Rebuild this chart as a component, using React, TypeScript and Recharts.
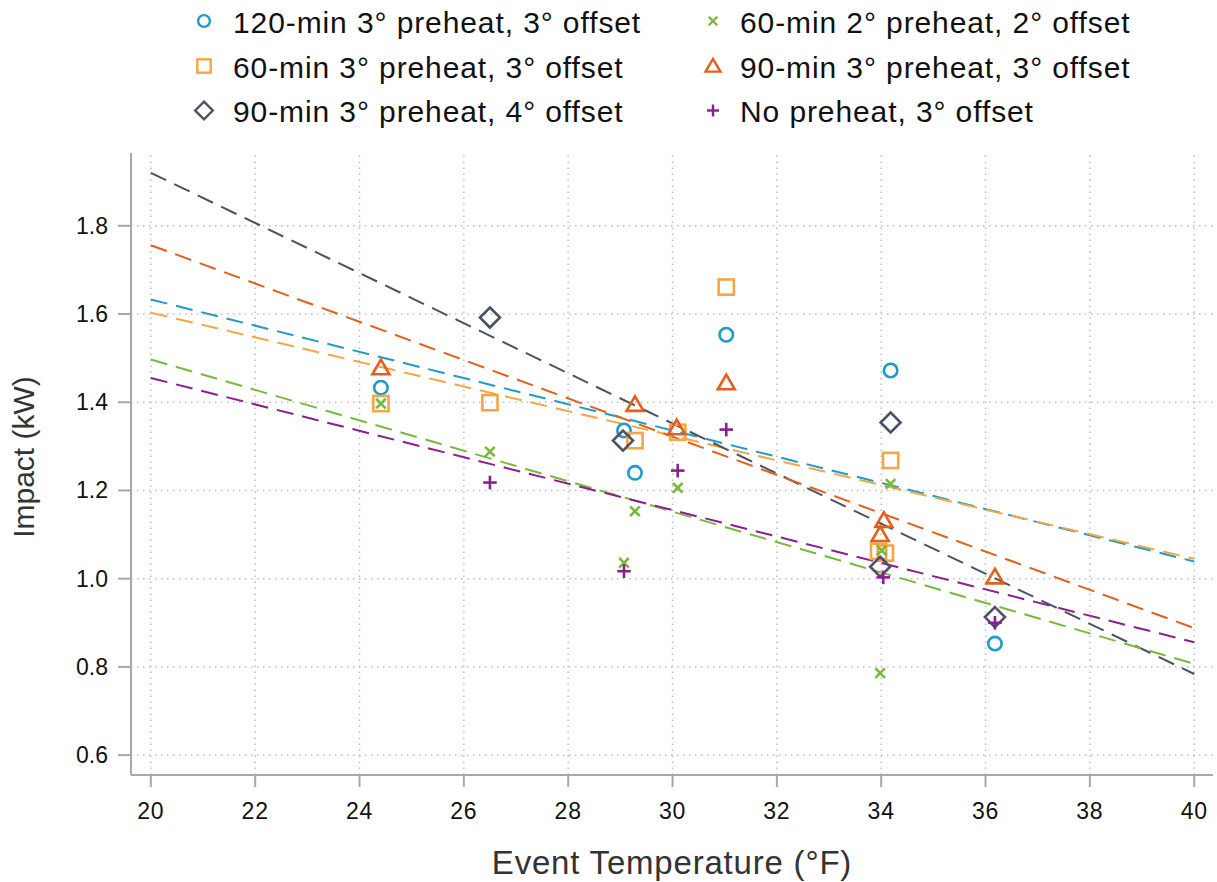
import React from 'react';
import { ComposedChart, Scatter, Line, XAxis, YAxis, ReferenceLine, Legend, Label } from 'recharts';

// ---------- data ----------
const xTicks = [20, 22, 24, 26, 28, 30, 32, 34, 36, 38, 40];
const yTicks = [0.6, 0.8, 1.0, 1.2, 1.4, 1.6, 1.8];

const seriesNames = [
  '120-min 3° preheat, 3° offset',
  '60-min 3° preheat, 3° offset',
  '90-min 3° preheat, 4° offset',
  '60-min 2° preheat, 2° offset',
  '90-min 3° preheat, 3° offset',
  'No preheat, 3° offset',
];

// 120-min 3° preheat, 3° offset
const tempsA = [24.41, 29.07, 29.28, 31.03, 34.18, 36.18];
const impactA = [1.433, 1.336, 1.24, 1.553, 1.472, 0.853];
// 60-min 3° preheat, 3° offset
const tempsB = [24.41, 26.5, 29.28, 30.1, 31.03, 34.18, 33.95, 34.08];
const impactB = [1.397, 1.399, 1.313, 1.332, 1.661, 1.268, 1.062, 1.058];
// 90-min 3° preheat, 4° offset
const tempsC = [26.5, 29.05, 34.18, 33.98, 36.18];
const impactC = [1.592, 1.313, 1.354, 1.027, 0.913];
// 60-min 2° preheat, 2° offset
const tempsD = [24.41, 26.5, 29.07, 29.28, 30.1, 34.18, 34.01, 33.98];
const impactD = [1.397, 1.288, 1.036, 1.153, 1.206, 1.215, 1.064, 0.786];
// 90-min 3° preheat, 3° offset
const tempsE = [24.41, 29.28, 30.08, 31.03, 34.05, 33.98, 36.18];
const impactE = [1.478, 1.395, 1.342, 1.444, 1.132, 1.1, 1.004];
// No preheat, 3° offset
const tempsF = [26.5, 29.07, 30.1, 31.03, 34.04, 36.18];
const impactF = [1.218, 1.017, 1.245, 1.338, 1.003, 0.9];

// fitted lines, read at the ends of the range
const fitTemps = [20, 40];
const fitA = [1.633, 1.039];
const fitB = [1.603, 1.045];
const fitC = [1.92, 0.784];
const fitD = [1.497, 0.807];
const fitE = [1.756, 0.888];
const fitF = [1.455, 0.856];

// ---------- helpers ----------
const pts = (t: number[], v: number[]) => t.map((x, i) => ({ x, y: v[i] }));

type Kind = 'circle' | 'square' | 'diamond' | 'x' | 'triangle' | 'plus';

const series: { name: string; color: string; kind: Kind; data: any[]; fit: any[] }[] = [
  { name: seriesNames[0], color: '#1f9bc7', kind: 'circle', data: pts(tempsA, impactA), fit: pts(fitTemps, fitA) },
  { name: seriesNames[1], color: '#f5a545', kind: 'square', data: pts(tempsB, impactB), fit: pts(fitTemps, fitB) },
  { name: seriesNames[2], color: '#4a5263', kind: 'diamond', data: pts(tempsC, impactC), fit: pts(fitTemps, fitC) },
  { name: seriesNames[3], color: '#7ab83c', kind: 'x', data: pts(tempsD, impactD), fit: pts(fitTemps, fitD) },
  { name: seriesNames[4], color: '#e2601c', kind: 'triangle', data: pts(tempsE, impactE), fit: pts(fitTemps, fitE) },
  { name: seriesNames[5], color: '#8a1f8e', kind: 'plus', data: pts(tempsF, impactF), fit: pts(fitTemps, fitF) },
];

function Marker({ kind, cx, cy, color, s = 1 }: { kind: Kind; cx: number; cy: number; color: string; s?: number }) {
  const sw = s < 1 ? 2.4 : 2.6;
  const common = { fill: 'none', stroke: color, strokeWidth: sw };
  if (kind === 'circle') return <circle cx={cx} cy={cy} r={6.7 * s} {...common} />;
  if (kind === 'square') {
    const h = 7.6 * s;
    return <rect x={cx - h} y={cy - h} width={2 * h} height={2 * h} {...common} />;
  }
  if (kind === 'diamond') {
    const h = 10 * s;
    return <polygon points={`${cx},${cy - h} ${cx + h},${cy} ${cx},${cy + h} ${cx - h},${cy}`} {...common} strokeLinejoin="miter" />;
  }
  if (kind === 'triangle') {
    const w = 8.5 * s;
    const t = 8.2 * s;
    const b = 6.4 * s;
    return <polygon points={`${cx},${cy - t} ${cx + w},${cy + b} ${cx - w},${cy + b}`} {...common} strokeLinejoin="miter" />;
  }
  if (kind === 'x') {
    const h = 4.8 * s;
    return (
      <g stroke={color} strokeWidth={sw}>
        <line x1={cx - h} y1={cy - h} x2={cx + h} y2={cy + h} />
        <line x1={cx - h} y1={cy + h} x2={cx + h} y2={cy - h} />
      </g>
    );
  }
  const h = 6.8 * s;
  return (
    <g stroke={color} strokeWidth={sw}>
      <line x1={cx - h} y1={cy} x2={cx + h} y2={cy} />
      <line x1={cx} y1={cy - h} x2={cx} y2={cy + h} />
    </g>
  );
}

const FONT = '"Liberation Sans", Arial, Helvetica, sans-serif';

// legend layout: [series index, column, row]
const legendLayout = [
  [0, 0, 0],
  [3, 1, 0],
  [1, 0, 1],
  [4, 1, 1],
  [2, 0, 2],
  [5, 1, 2],
];
const legendColMarkerX = [204, 713];
const legendColTextX = [233, 740];
const legendRowY = [21, 66, 110.5];

const LegendContent = () => (
  <svg width={1217} height={135} style={{ display: 'block' }}>
    {legendLayout.map(([si, col, row]) => {
      const s = series[si];
      return (
        <g key={si}>
          <Marker kind={s.kind} cx={legendColMarkerX[col]} cy={legendRowY[row]} color={s.color} s={0.88} />
          <text
            x={legendColTextX[col]}
            y={legendRowY[row] + 11.5}
            fontFamily={FONT}
            fontSize={30}
            letterSpacing={0.9}
            fill="#111"
          >
            {s.name}
          </text>
        </g>
      );
    })}
  </svg>
);

const XTick = (p: any) => (
  <text
    x={p.x}
    y={p.y + 16}
    textAnchor="middle"
    fontFamily={FONT}
    fontSize={23}
    letterSpacing={0.8}
    fill="#111"
  >
    {p.payload.value}
  </text>
);

const YTick = (p: any) => (
  <text
    x={p.x}
    y={p.y + 8}
    textAnchor="end"
    fontFamily={FONT}
    fontSize={23}
    fill="#111"
  >
    {Number(p.payload.value).toFixed(1)}
  </text>
);

const axisColor = '#a8a8a8';
const gridProps = { stroke: '#bdbdbd', strokeWidth: 1.5, strokeDasharray: '1.5 4.5' };

export default function App() {
  return (
    <div style={{ position: 'absolute', left: 0, top: 0, width: 1217, height: 882, background: '#fff' }}>
      <ComposedChart width={1217} height={882} margin={{ top: 153, right: 4, bottom: 0, left: 0 }}>
        {yTicks.map((t) => (
          <ReferenceLine key={'gy' + t} y={t} {...gridProps} />
        ))}
        {xTicks.map((t) => (
          <ReferenceLine key={'gx' + t} x={t} {...gridProps} />
        ))}
        <XAxis
          type="number"
          dataKey="x"
          domain={[19.62, 40.36]}
          ticks={xTicks}
          allowDataOverflow
          interval={0}
          height={107}
          tickSize={12}
          tickMargin={16}
          axisLine={{ stroke: axisColor, strokeWidth: 2 }}
          tickLine={{ stroke: axisColor, strokeWidth: 2 }}
          tick={<XTick />}
        >
          <Label
            content={(p: any) => {
              const vb = p.viewBox || { x: 131, y: 775, width: 1082, height: 107 };
              return (
                <text
                  x={vb.x + vb.width / 2}
                  y={vb.y + 99}
                  textAnchor="middle"
                  fontFamily={FONT}
                  fontSize={33}
                  letterSpacing={0.8}
                  fill="#333"
                >
                  Event Temperature (°F)
                </text>
              );
            }}
          />
        </XAxis>
        <YAxis
          type="number"
          dataKey="y"
          domain={[0.555, 1.965]}
          ticks={yTicks}
          allowDataOverflow
          interval={0}
          width={131}
          tickSize={13}
          tickMargin={10}
          axisLine={{ stroke: axisColor, strokeWidth: 2 }}
          tickLine={{ stroke: axisColor, strokeWidth: 2 }}
          tick={<YTick />}
        >
          <Label
            content={(p: any) => {
              const vb = p.viewBox || { x: 0, y: 153, width: 131, height: 622 };
              const cx = 34;
              const cy = vb.y + vb.height / 2 - 7;
              return (
                <text
                  x={cx}
                  y={cy}
                  transform={`rotate(-90 ${cx} ${cy})`}
                  textAnchor="middle"
                  fontFamily={FONT}
                  fontSize={30}
                  fill="#333"
                >
                  Impact (kW)
                </text>
              );
            }}
          />
        </YAxis>
        <Legend
          content={() => <LegendContent />}
          layout="horizontal"
          verticalAlign="middle"
          align="center"
          wrapperStyle={{ top: 0, left: 0, width: 1217, height: 135 }}
        />
        {series.map((s, i) => (
          <Scatter
            key={'s' + i}
            name={s.name}
            data={s.data}
            dataKey="y"
            isAnimationActive={false}
            shape={(p: any) => <Marker kind={s.kind} cx={p.cx} cy={p.cy} color={s.color} />}
          />
        ))}
        {series.map((s, i) => (
          <Line
            key={'l' + i}
            data={s.fit}
            dataKey="y"
            type="linear"
            stroke={s.color}
            strokeWidth={2}
            strokeDasharray="17 9"
            dot={false}
            activeDot={false}
            legendType="none"
            isAnimationActive={false}
          />
        ))}
      </ComposedChart>
    </div>
  );
}
